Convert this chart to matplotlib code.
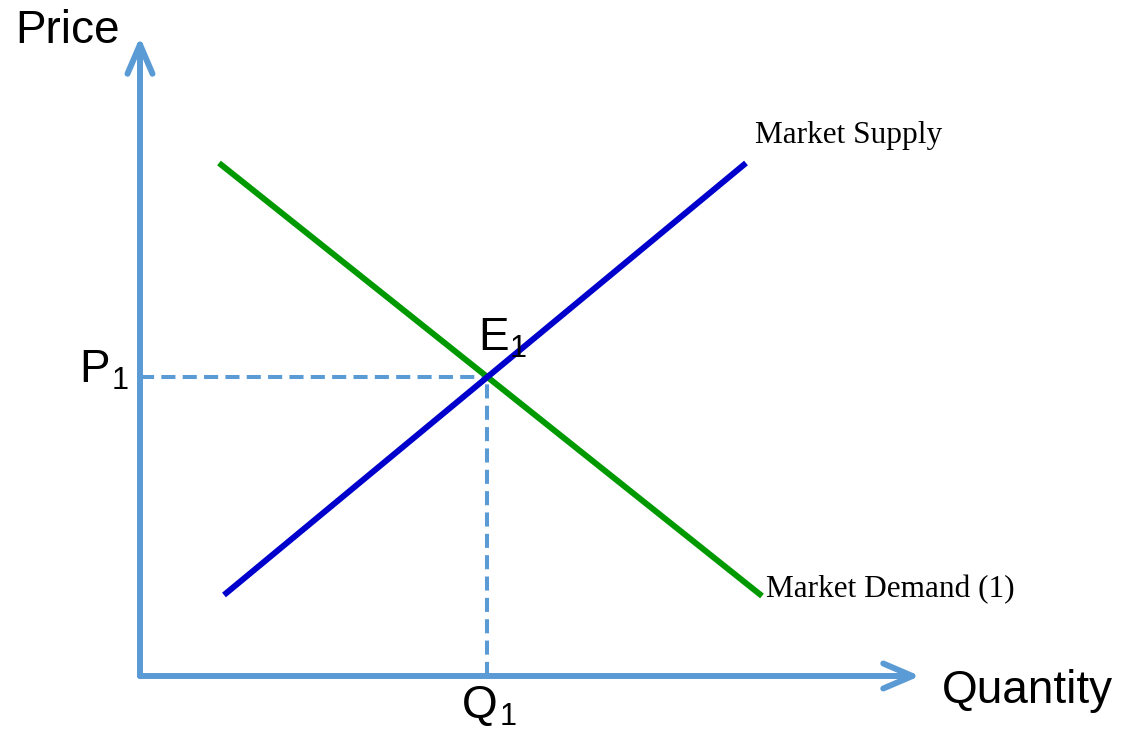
import matplotlib
matplotlib.use("Agg")
import matplotlib.pyplot as plt
from matplotlib.patches import FancyArrowPatch

# market lines, quantity / price units
supply_q = [0.84, 6.06]
supply_p = [0.81, 5.13]
demand_q = [0.79, 6.22]
demand_p = [5.13, 0.80]
axis_q_max = 7.80
axis_p_max = 6.39

AXIS_COLOR = "#5B9BD5"
SUPPLY_COLOR = "#0000CC"
DEMAND_COLOR = "#009900"


def px(x, y):
    # pixel position -> data units
    return (x - 140) / 100.0, (676 - y) / 100.0


def line_eq(q, p):
    m = (p[1] - p[0]) / (q[1] - q[0])
    return m, p[0] - m * q[0]


ms, bs = line_eq(supply_q, supply_p)
md, bd = line_eq(demand_q, demand_p)
eq_q = (bd - bs) / (ms - md)
eq_p = ms * eq_q + bs

fig = plt.figure(figsize=(11.22, 7.31), dpi=100, facecolor="white")
ax = fig.add_axes([0, 0, 1, 1])
ax.set_xlim(-1.40, 9.82)
ax.set_ylim(-0.55, 6.76)
ax.axis("off")

# dashed guides to equilibrium
dash = (0, (3.5, 1.8))
ax.plot([0, eq_q], [eq_p, eq_p], color=AXIS_COLOR, lw=2.9, linestyle=dash,
        dash_capstyle="butt", zorder=1)
ax.plot([eq_q, eq_q], [0, eq_p], color=AXIS_COLOR, lw=2.9, linestyle=dash,
        dash_capstyle="butt", zorder=1)

ax.plot(supply_q, supply_p, color=SUPPLY_COLOR, lw=4.3, solid_capstyle="butt", zorder=3)
ax.plot(demand_q, demand_p, color=DEMAND_COLOR, lw=4.3, solid_capstyle="butt", zorder=2)

# axes with open arrow heads
for end in [(axis_q_max, 0), (0, axis_p_max)]:
    arr = FancyArrowPatch((0, 0), end, arrowstyle="->, head_length=2.1, head_width=0.9",
                          mutation_scale=10, color=AXIS_COLOR, lw=4.3,
                          shrinkA=0, shrinkB=0,
                          capstyle="round", joinstyle="round", zorder=4)
    ax.add_patch(arr)

sans = ["Liberation Sans", "DejaVu Sans"]
serif = ["Liberation Serif", "DejaVu Serif"]

ax.text(*px(15, 43), "Price", fontsize=33, family=sans, ha="left", va="baseline")
ax.text(*px(942, 703), "Quantity", fontsize=33, family=sans, ha="left", va="baseline")

ax.text(*px(79, 382), "P", fontsize=33, family=sans, ha="left", va="baseline")
ax.text(*px(112, 389), "1", fontsize=22, family=sans, ha="left", va="baseline")
ax.text(*px(478, 350), "E", fontsize=33, family=sans, ha="left", va="baseline")
ax.text(*px(510, 357), "1", fontsize=22, family=sans, ha="left", va="baseline")
ax.text(*px(462, 718), "Q", fontsize=33, family=sans, ha="left", va="baseline")
ax.text(*px(500, 725), "1", fontsize=22, family=sans, ha="left", va="baseline")

ax.text(*px(755, 143), "Market Supply", fontsize=22.5, family=serif, ha="left", va="baseline")
ax.text(*px(766, 597), "Market Demand (1)", fontsize=22.5, family=serif, ha="left", va="baseline")

fig.savefig("out.png", dpi=100, facecolor="white")
